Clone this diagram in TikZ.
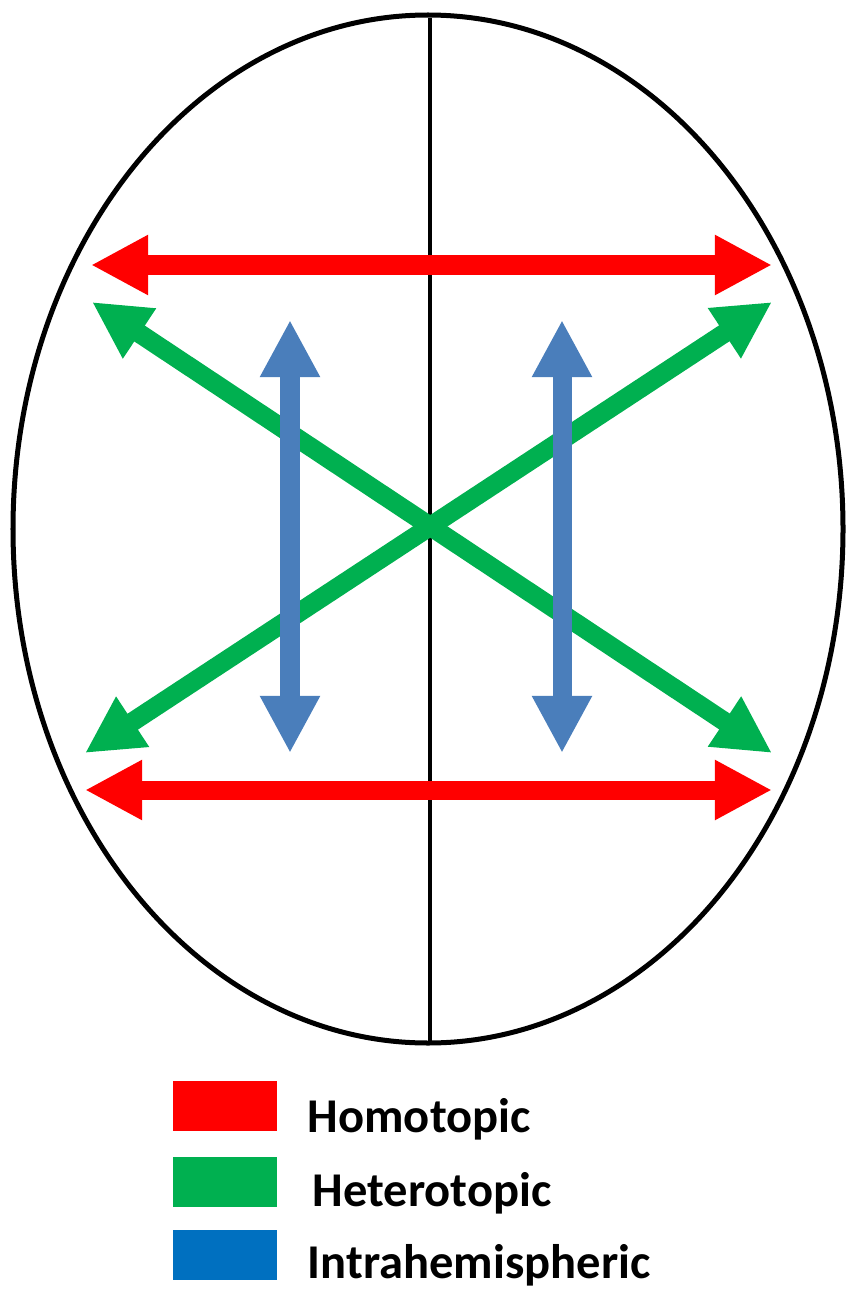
\documentclass[tikz,border=0pt]{standalone}
\usepackage{fontspec}
\setmainfont{Carlito}
\usepackage{tikz}
\usetikzlibrary{arrows.meta, positioning}
\definecolor{homored}{HTML}{FF0000}
\definecolor{heterogreen}{HTML}{00B050}
\definecolor{intrablue}{HTML}{4A7EBB}
\definecolor{keyblue}{HTML}{0070C0}
\tikzset{
  link/.style={line width=0.19cm, {Triangle[length=0.57cm, width=0.56cm]}-{Triangle[length=0.57cm, width=0.56cm]}},
  keybox/.style={minimum width=1.03cm, minimum height=0.49cm, inner sep=0pt},
  keytext/.style={anchor=base west, inner sep=0pt, font=\fontsize{13.8}{16}\selectfont\bfseries}
}

\begin{document}
\begin{tikzpicture}[x=0.01cm, y=-0.01cm]
\useasboundingbox (0,0) rectangle (859,1300);

\coordinate (centre) at (428,529);
\coordinate (top) at (430,18);
\coordinate (bottom) at (430,1043);

\draw[line width=0.05cm] (centre) ellipse [x radius=415, y radius=514];
\draw[line width=0.035cm] (top) -- (bottom);

\coordinate (TL) at (91,265);
\coordinate (TR) at (772,265);
\coordinate (BL) at (85,790);
\coordinate (BR) at (772,790);

\coordinate (gTL) at (92,302);
\coordinate (gTR) at (772,302);
\coordinate (gBL) at (85,753);
\coordinate (gBR) at (772,753);

\coordinate (lTop) at (290,320);
\coordinate (lBot) at (290,753);
\coordinate (rTop) at (562,320);
\coordinate (rBot) at (562,753);

\draw[link, color=heterogreen] (gTL) -- (gBR);
\draw[link, color=heterogreen] (gBL) -- (gTR);
\draw[link, color=intrablue] (lTop) -- (lBot);
\draw[link, color=intrablue] (rTop) -- (rBot);
\draw[link, color=homored] (TL) -- (TR);
\draw[link, color=homored] (BL) -- (BR);

\node[keybox, fill=homored] (homo) at (225,1106) {};
\node[keybox, fill=heterogreen] (hetero) at (225,1182) {};
\node[keybox, fill=keyblue] (intra) at (225,1255) {};

\node[keytext] (homoText) at (307,1132) {Homotopic};
\node[keytext] (heteroText) at (312,1206) {Heterotopic};
\node[keytext] (intraText) at (307,1278) {Intrahemispheric};
\end{tikzpicture}
\end{document}
